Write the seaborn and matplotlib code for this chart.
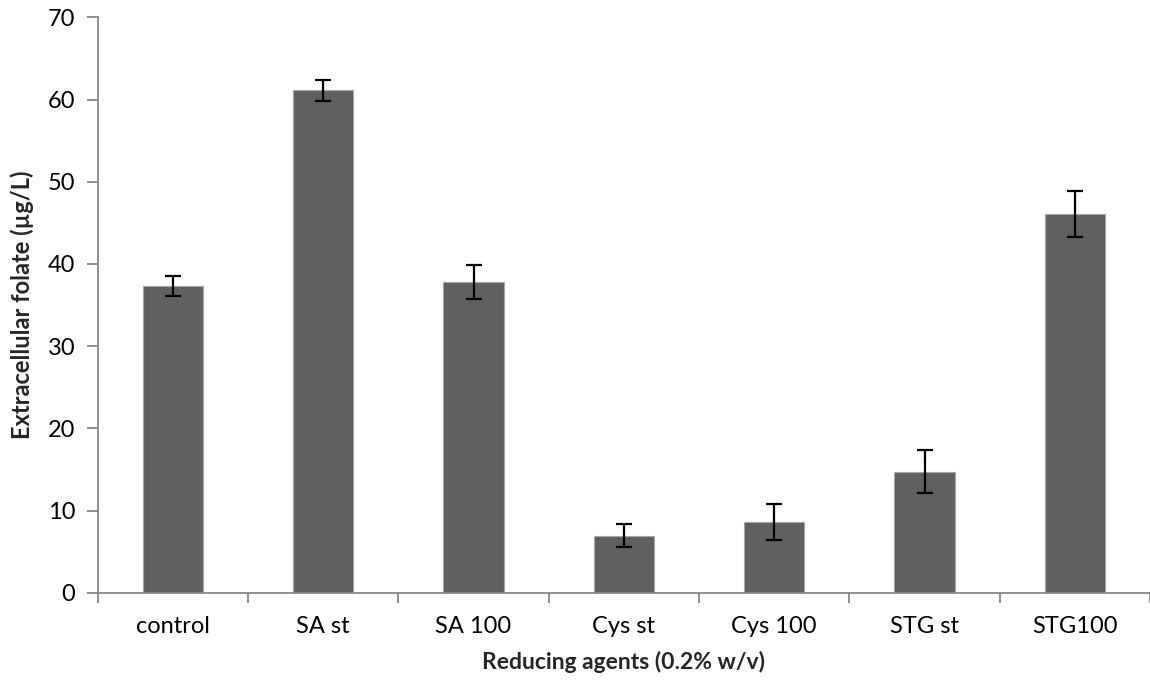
import matplotlib
matplotlib.use("Agg")
import matplotlib.pyplot as plt
import seaborn as sns
import pandas as pd

categories = ["control", "SA st", "SA 100", "Cys st", "Cys 100", "STG st", "STG100"]
folate = [37.3, 61.1, 37.8, 6.9, 8.6, 14.7, 46.1]
errors = [1.2, 1.3, 2.1, 1.4, 2.2, 2.6, 2.8]
y_ticks = [0, 10, 20, 30, 40, 50, 60, 70]

sns.set_theme(style="white")
plt.rcParams['font.family'] = ['Lato', 'DejaVu Sans']

df = pd.DataFrame({"agent": categories, "folate": folate})

fig = plt.figure(figsize=(11.5, 6.81), dpi=100)
ax = fig.add_axes([97.7 / 1150, 1 - 592.7 / 681, 1 - 97.7 / 1150, (592.7 - 17.3) / 681])

sns.barplot(data=df, x="agent", y="folate", color="#606060", width=0.4,
            edgecolor="#a6a6a6", linewidth=0.8, saturation=1, errorbar=None, ax=ax)
ax.errorbar(range(len(categories)), folate, yerr=errors, fmt="none",
            ecolor="black", elinewidth=1.6, capsize=6, capthick=1.6)

ax.set_xlim(-0.5, len(categories) - 0.5)
ax.set_ylim(0, 70)
ax.set_yticks(y_ticks)
ax.set_yticklabels([str(t) for t in y_ticks])

for side in ["top", "right"]:
    ax.spines[side].set_visible(False)
for side in ["left", "bottom"]:
    ax.spines[side].set_color("#868686")
    ax.spines[side].set_linewidth(1.3)

# x ticks between categories
ax.set_xticks([i + 0.5 for i in range(-1, len(categories))], minor=True)
ax.set_xticks(range(len(categories)))
ax.set_xticklabels(categories)
ax.tick_params(axis="x", which="major", length=0, labelsize=17, pad=17, colors="black")
ax.tick_params(axis="x", which="minor", length=7, width=1.3, color="#868686", direction="out", bottom=True)
ax.tick_params(axis="y", which="major", length=8, width=1.3, color="#868686", direction="out",
               left=True, labelsize=17, pad=8, labelcolor="black")

ax.set_xlabel("Reducing agents (0.2% w/v)", fontsize=16.5, fontweight="bold", labelpad=10)
ax.set_ylabel("Extracellular folate (µg/L)", fontsize=17, fontweight="bold", labelpad=10)

fig.savefig("out.png", dpi=100)
